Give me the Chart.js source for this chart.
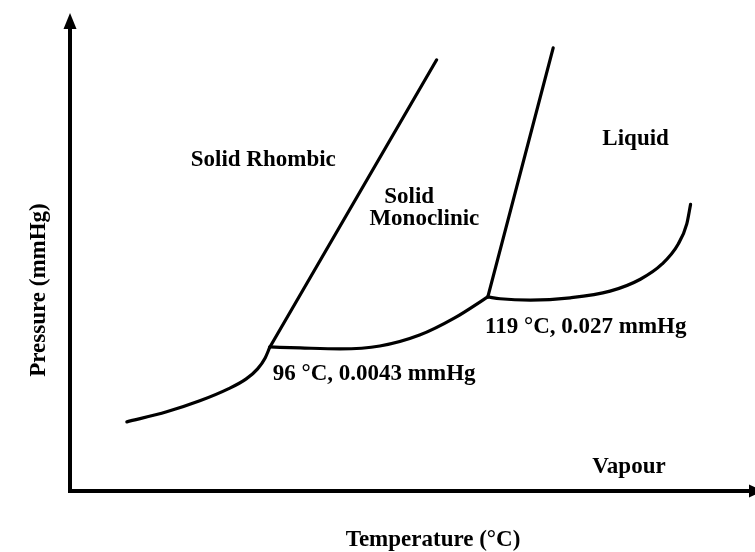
<!DOCTYPE html>
<html lang="en">
<head>
    <meta charset="UTF-8">
    <title>Sulfur Phase Diagram</title>
    <style>
        html, body { margin: 0; padding: 0; background: #fff; }
        #wrap { width: 755px; height: 552px; position: relative; }
    </style>
</head>
<body>
    <div id="wrap"><canvas id="phaseChart" width="755" height="552"></canvas></div>

    <script src="https://cdn.jsdelivr.net/npm/chart.js"></script>
    <script>
        // Schematic values (temperature in °C on x, arbitrary pressure units on y)
        const rhombicVapT = [81.0, 85.2, 88.7, 91.7, 93.6, 94.8, 95.6, 96.1];
        const rhombicVapP = [14.5, 16.6, 18.9, 21.4, 23.5, 25.6, 27.9, 30.2];

        const rhombicMonoT = [96.1, 113.7];
        const rhombicMonoP = [30.2, 90.4];

        const monoVapT = [96.1, 99.3, 103.5, 107.7, 111.9, 115.6, 119.1];
        const monoVapP = [30.2, 30.0, 29.8, 30.4, 32.7, 36.3, 40.7];

        const monoLiqT = [119.1, 126.0];
        const monoLiqP = [40.7, 92.9];

        const liqVapT = [119.1, 120.4, 123.6, 127.8, 132.0, 135.2, 137.5, 139.2, 140.1, 140.5];
        const liqVapP = [40.7, 40.3, 40.0, 40.5, 41.9, 44.4, 47.6, 51.8, 56.0, 60.1];

        // region / point labels, placed in data units
        const labelText = ['Solid Rhombic', 'Solid', 'Monoclinic', 'Liquid',
                           '96 °C, 0.0043 mmHg', '119 °C, 0.027 mmHg', 'Vapour'];
        const labelT = [95.4, 110.8, 112.4, 134.7, 96.4, 118.8, 134.0];
        const labelP = [68.1, 60.4, 55.8, 72.5, 23.3, 33.1, 3.8];
        const labelAlign = ['center', 'center', 'center', 'center', 'left', 'left', 'center'];

        const FONT = 'bold 23px "Liberation Serif", "Times New Roman", serif';

        function pts(xs, ys) {
            return xs.map((x, i) => ({ x: x, y: ys[i] }));
        }

        function curve(xs, ys, smooth) {
            return {
                data: pts(xs, ys),
                showLine: true,
                borderColor: '#000',
                borderWidth: 3.2,
                pointRadius: 0,
                fill: false,
                tension: smooth ? 0.4 : 0,
                cubicInterpolationMode: smooth ? 'monotone' : 'default',
                borderCapStyle: 'round',
                borderJoinStyle: 'round'
            };
        }

        // arrows on the axes, axis titles and region labels
        const decorations = {
            id: 'decorations',
            afterDraw(chart) {
                const { ctx, chartArea, scales } = chart;
                ctx.save();
                ctx.fillStyle = '#000';

                // up arrow
                ctx.beginPath();
                ctx.moveTo(chartArea.left, chartArea.top - 15);
                ctx.lineTo(chartArea.left - 6.5, chartArea.top + 1);
                ctx.lineTo(chartArea.left + 6.5, chartArea.top + 1);
                ctx.closePath();
                ctx.fill();

                // right arrow
                ctx.beginPath();
                ctx.moveTo(chartArea.right + 8, chartArea.bottom);
                ctx.lineTo(chartArea.right - 6, chartArea.bottom - 6.5);
                ctx.lineTo(chartArea.right - 6, chartArea.bottom + 6.5);
                ctx.closePath();
                ctx.fill();

                ctx.font = FONT;
                ctx.textBaseline = 'alphabetic';

                // axis titles
                ctx.textAlign = 'center';
                ctx.fillText('Temperature (°C)', 433, 546);
                ctx.save();
                ctx.translate(45, 290);
                ctx.rotate(-Math.PI / 2);
                ctx.fillText('Pressure (mmHg)', 0, 0);
                ctx.restore();

                // labels
                labelText.forEach((t, i) => {
                    ctx.textAlign = labelAlign[i];
                    ctx.fillText(t, scales.x.getPixelForValue(labelT[i]),
                                    scales.y.getPixelForValue(labelP[i]));
                });
                ctx.restore();
            }
        };

        const axisStyle = {
            display: true,
            grid: { display: false, drawTicks: false, tickLength: 0 },
            ticks: { display: false },
            border: { display: true, color: '#000', width: 4 }
        };

        new Chart(document.getElementById('phaseChart'), {
            type: 'scatter',
            data: {
                datasets: [
                    curve(rhombicVapT, rhombicVapP, true),
                    curve(rhombicMonoT, rhombicMonoP, false),
                    curve(monoVapT, monoVapP, true),
                    curve(monoLiqT, monoLiqP, false),
                    curve(liqVapT, liqVapP, true)
                ]
            },
            options: {
                responsive: false,
                animation: false,
                devicePixelRatio: 1,
                layout: { padding: { left: 70, right: 0, top: 28, bottom: 61 } },
                plugins: {
                    legend: { display: false },
                    tooltip: { enabled: false }
                },
                scales: {
                    x: Object.assign({ type: 'linear', min: 75, max: 147.3 }, axisStyle),
                    y: Object.assign({ type: 'linear', min: 0, max: 97.07 }, axisStyle)
                }
            },
            plugins: [decorations]
        });
    </script>
</body>
</html>
